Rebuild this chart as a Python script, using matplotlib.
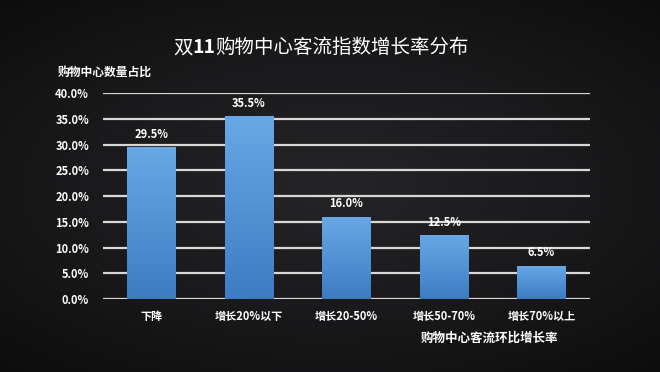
import matplotlib.pyplot as plt
import numpy as np
from matplotlib.colors import LinearSegmentedColormap

plt.rcParams['font.family'] = ['Noto Sans CJK SC', 'DejaVu Sans']

categories = ['下降', '增长20%以下', '增长20-50%', '增长50-70%', '增长70%以上']
values = [29.5, 35.5, 16.0, 12.5, 6.5]
yticks = [0, 5, 10, 15, 20, 25, 30, 35, 40]

fig = plt.figure(figsize=(6.6, 3.72), dpi=100)
fig.patch.set_facecolor('#18181a')

# dark background with a soft vignette
bg = fig.add_axes([0, 0, 1, 1], zorder=-10)
yy, xx = np.mgrid[-1:1:200j, -1:1:300j]
r = np.sqrt(xx ** 2 * 0.8 + yy ** 2)
bg_cmap = LinearSegmentedColormap.from_list('bg', ['#252527', '#1a1a1c', '#0d0d0e'])
bg.imshow(r, cmap=bg_cmap, vmin=0, vmax=1.35, aspect='auto',
          extent=[0, 1, 0, 1])
bg.axis('off')

ax = fig.add_axes([0.156, 0.196, 0.738, 0.554])
ax.set_facecolor('none')
x = np.arange(len(categories))
bars = ax.bar(x, values, width=0.5, color='#5b9bd5', zorder=3)

# gradient fill for bars
grad = np.linspace(1, 0, 100).reshape(-1, 1)
cmap = LinearSegmentedColormap.from_list('b', ['#3d7cc2', '#68a8e6'])
for b in bars:
    bx, by = b.get_x(), b.get_y()
    w, h = b.get_width(), b.get_height()
    im = ax.imshow(grad, cmap=cmap, aspect='auto', zorder=4,
                   extent=[bx, bx + w, by, by + h])
    im.set_clip_path(b)

for xi, v in zip(x, values):
    ax.text(xi, v + 1.2, f'{v:.1f}%', ha='center', va='bottom',
            color='white', fontsize=8, fontweight='bold', zorder=5)

ax.set_xlim(-0.5, len(categories) - 0.5)
ax.set_ylim(0, 40)
ax.set_yticks(yticks)
ax.set_yticklabels([f'{t:.1f}%' for t in yticks], fontweight='bold')
ax.set_xticks(x)
ax.set_xticklabels(categories, fontweight='bold')
ax.grid(axis='y', color='#d8d8d8', linewidth=1.6, zorder=1)
ax.tick_params(length=0, colors='white', labelsize=8)
ax.tick_params(axis='x', pad=8)
ax.tick_params(axis='y', pad=10)
for s in ax.spines.values():
    s.set_visible(False)

fig.text(0.088, 0.805, '购物中心数量占比', color='white', fontsize=8.5,
         fontweight='bold', ha='left', va='center')
fig.text(0.742, 0.09, '购物中心客流环比增长率', color='white', fontsize=9,
         fontweight='bold', ha='center', va='center')

# title with bold "11"
t1 = fig.text(0.262, 0.872, '双', color='white', fontsize=14,
              ha='left', va='center')
t2 = fig.text(0, 0, '11', color='white', fontsize=14, fontweight='bold',
              ha='left', va='center')
t3 = fig.text(0, 0, '购物中心客流指数增长率分布', color='white', fontsize=14,
              ha='left', va='center')
fig.canvas.draw()
rend = fig.canvas.get_renderer()
e1 = t1.get_window_extent(rend)
t2.set_position((e1.x1 / fig.bbox.width, 0.872))
e2 = t2.get_window_extent(rend)
t3.set_position((e2.x1 / fig.bbox.width, 0.872))

fig.savefig('out.png', dpi=100, facecolor=fig.get_facecolor())
